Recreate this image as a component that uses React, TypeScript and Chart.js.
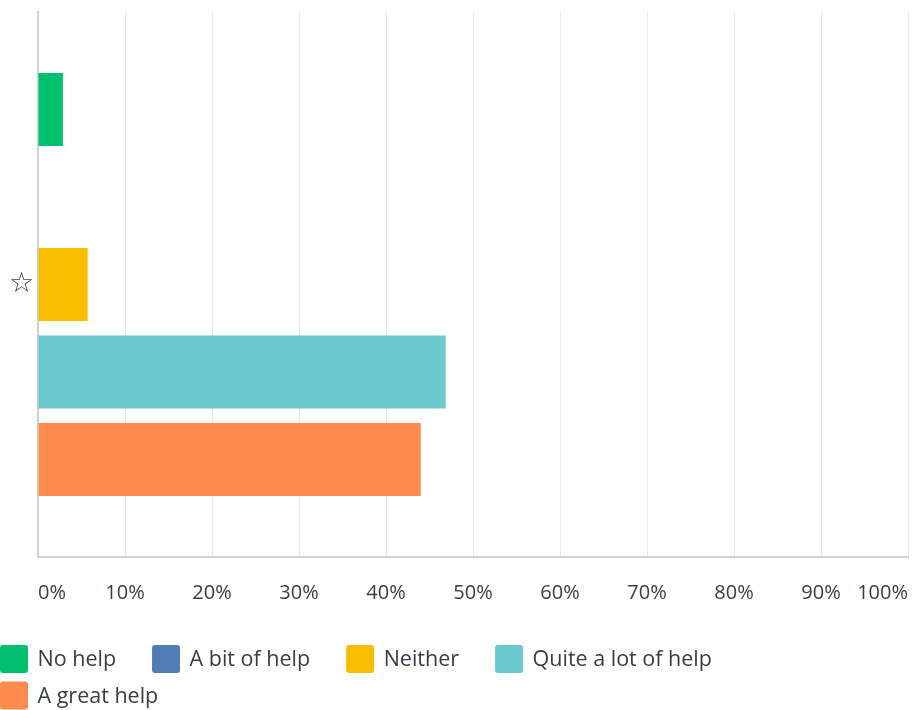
import React, { useEffect, useRef } from "react";
import { Chart, registerables } from "chart.js";

Chart.register(...registerables);

const categories = ["☆"];
const seriesNames = ["No help", "A bit of help", "Neither", "Quite a lot of help", "A great help"];
const seriesValues = [[2.86], [0], [5.71], [46.86], [44.0]];
const seriesColors = ["#00BF6F", "#507CB6", "#F9BE00", "#6BC8CD", "#FF8B4F"];
const xTicks = [0, 10, 20, 30, 40, 50, 60, 70, 80, 90, 100];

const FONT = "'Open Sans'";
const TEXT = "#333E48";

const legendPlugin = {
  id: "bottomLegend",
  afterDraw(chart: any) {
    const ctx = chart.ctx;
    const box = 28;
    const gap = 9.5;
    const itemGap = 36;
    const rowH = 36.5;
    let x = 0;
    let y = chart.chartArea.bottom + 102;
    ctx.save();
    ctx.font = `400 21.5px ${FONT}`;
    ctx.textBaseline = "middle";
    ctx.textAlign = "left";
    chart.data.datasets.forEach((ds: any) => {
      const w = box + gap + ctx.measureText(ds.label).width;
      if (x > 0 && x + w + itemGap > chart.width) {
        x = 0;
        y += rowH;
      }
      ctx.fillStyle = ds.backgroundColor;
      ctx.beginPath();
      ctx.roundRect(x, y - box / 2, box, box, 3);
      ctx.fill();
      ctx.fillStyle = TEXT;
      ctx.fillText(ds.label, x + box + gap, y + 1);
      x += w + itemGap;
    });
    ctx.restore();
  },
};

export default function App() {
  const ref = useRef<HTMLCanvasElement>(null);
  useEffect(() => {
    if (!ref.current) return;
    const chart = new Chart(ref.current, {
      type: "bar",
      data: {
        labels: categories,
        datasets: seriesNames.map((name, i) => ({
          label: name,
          data: seriesValues[i],
          backgroundColor: seriesColors[i],
          borderWidth: 0,
          categoryPercentage: 0.803,
          barPercentage: 0.834,
        })),
      },
      options: {
        indexAxis: "y",
        animation: false,
        responsive: false,
        maintainAspectRatio: false,
        layout: { padding: { top: 12, right: 4, bottom: 105, left: 0 } },
        plugins: {
          legend: { display: false },
          tooltip: { enabled: false },
        },
        scales: {
          x: {
            min: 0,
            max: 100,
            afterBuildTicks: (scale: any) => {
              scale.ticks = xTicks.map((v) => ({ value: v }));
            },
            afterFit: (scale: any) => {
              scale.paddingLeft = 0;
              scale.paddingRight = 0;
              scale.height = 48;
            },
            ticks: {
              align: "inner",
              padding: 24,
              color: TEXT,
              font: { family: FONT, size: 20, weight: "400" },
              callback: (v: any) => `${v}%`,
              maxRotation: 0,
              autoSkip: false,
            },
            grid: { color: "#E8E8E8", lineWidth: 1, drawTicks: false },
            border: { color: "#D0D0D0", width: 2 },
          },
          y: {
            afterFit: (scale: any) => {
              scale.width = 38;
              scale.paddingTop = 0;
              scale.paddingBottom = 0;
            },
            ticks: {
              padding: 4,
              color: TEXT,
              font: { family: "DejaVu Sans", size: 28, weight: "bold" },
            },
            grid: { display: false, drawTicks: false },
            border: { color: "#D0D0D0", width: 2 },
          },
        },
      },
      plugins: [legendPlugin],
    });
    return () => chart.destroy();
  }, []);
  return (
    <div style={{ position: "absolute", left: 0, top: 0, width: 912, height: 710 }}>
      <canvas ref={ref} width={912} height={710} style={{ width: 912, height: 710 }} />
    </div>
  );
}
